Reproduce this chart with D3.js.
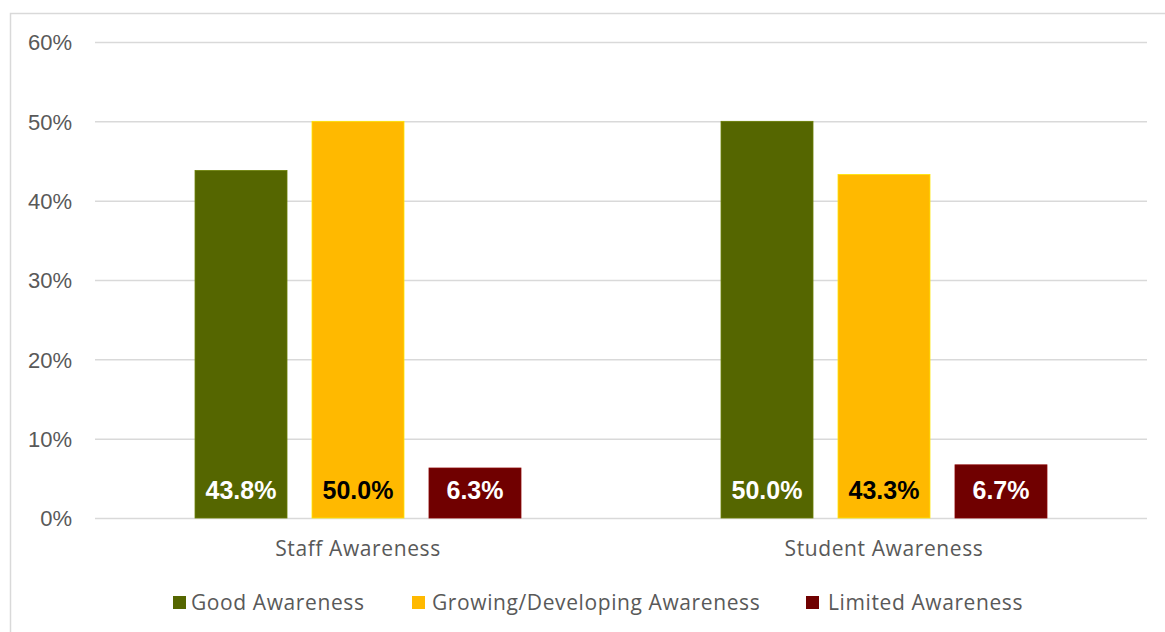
<!DOCTYPE html>
<html><head><meta charset="utf-8">
<script src="https://cdn.jsdelivr.net/npm/d3@7"></script>
<style>body{margin:0;background:#fff}svg{display:block}</style>
</head><body>
<svg id="c" width="1165" height="632"></svg>
<script>
const categories = ["Staff Awareness", "Student Awareness"];
const seriesNames = ["Good Awareness", "Growing/Developing Awareness", "Limited Awareness"];
const good = [43.8, 50.0];
const growing = [50.0, 43.3];
const limited = [6.3, 6.7];
const yTicks = [0, 10, 20, 30, 40, 50, 60];
const colors = ["#556600", "#FFB900", "#700000"];
const labelColors = ["#ffffff", "#000000", "#ffffff"];

(function(){
const series = [good, growing, limited];
const svg = d3.select("#c");
svg.append("rect").attr("x",10.5).attr("y",13.5).attr("width",1170).attr("height",640)
  .attr("fill","#fff").attr("stroke","#d9d9d9").attr("stroke-width",1.5);

const pLeft = 95, pRight = 1147, pTop = 42, pBottom = 518;
const y = d3.scaleLinear().domain([0,60]).range([pBottom, pTop]);
const x0 = d3.scaleBand().domain(categories).range([pLeft, pRight]).paddingInner(0).paddingOuter(0);
const x1 = d3.scaleBand().domain(seriesNames).range([0, x0.bandwidth()]).paddingInner(0.2137).paddingOuter(0.855);

const yAxis = d3.axisLeft(y).tickValues(yTicks).tickFormat(d => d + "%").tickSize(-(pRight-pLeft)).tickPadding(23);
const gy = svg.append("g").attr("transform",`translate(${pLeft},0)`).call(yAxis);
gy.select(".domain").remove();
gy.selectAll(".tick line").attr("stroke","#d9d9d9").attr("stroke-width",1.5);
gy.selectAll(".tick text").attr("fill","#595959").attr("font-family","Liberation Sans, Arial, sans-serif").attr("font-size",22).attr("dy","0.35em");

const gx = svg.append("g").attr("transform",`translate(0,${pBottom})`).call(d3.axisBottom(x0).tickSize(0).tickPadding(23));
gx.select(".domain").remove();
gx.selectAll(".tick text").attr("fill","#595959").attr("font-family","Open Sans, sans-serif").attr("font-size",21).attr("letter-spacing","0.6px");

const groups = svg.append("g").selectAll("g").data(categories).join("g")
  .attr("transform", d => `translate(${x0(d)},0)`);
groups.each(function(cat, ci){
  const g = d3.select(this);
  seriesNames.forEach((s, si) => {
    const v = series[si][ci];
    g.append("rect").attr("x", x1(s)).attr("width", x1.bandwidth())
      .attr("y", y(v)).attr("height", y(0) - y(v)).attr("fill", colors[si])
      .attr("stroke", d3.color(colors[si]).brighter(0.6)).attr("stroke-width",0.8);
    g.append("text").attr("x", x1(s) + x1.bandwidth()/2).attr("y", pBottom - 19)
      .attr("text-anchor","middle").attr("font-family","Liberation Sans, Arial, sans-serif")
      .attr("font-weight","bold").attr("font-size",25).attr("fill", labelColors[si])
      .text(v.toFixed(1) + "%");
  });
});

const legendX = [173, 412, 806];
const lg = svg.append("g");
seriesNames.forEach((s, i) => {
  lg.append("rect").attr("x", legendX[i]).attr("y", 596).attr("width",13).attr("height",13).attr("fill", colors[i]);
  lg.append("text").attr("x", legendX[i] + 18 + (i===0?0:(i===1?2:4))).attr("y", 610).attr("fill","#595959")
    .attr("font-family","Open Sans, sans-serif").attr("font-size",21).attr("letter-spacing","0.6px").text(s);
});
})();
</script>
</body></html>
